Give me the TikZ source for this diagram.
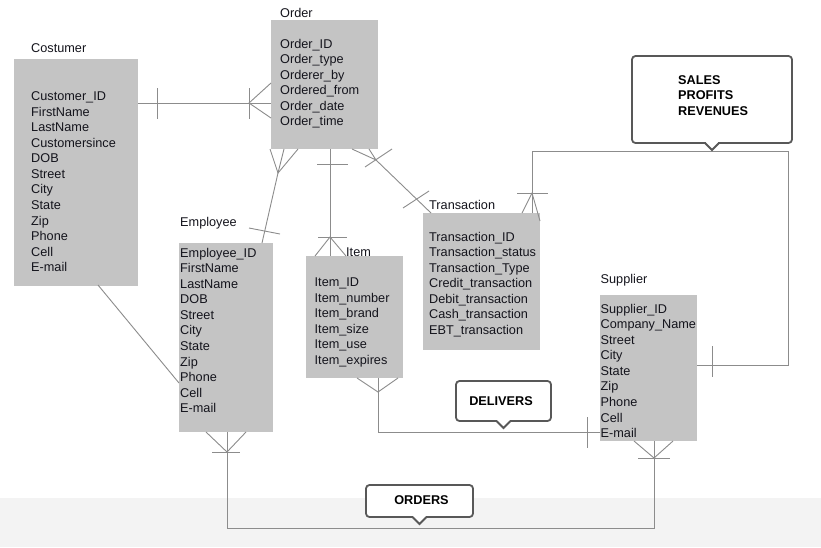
\documentclass[tikz,border=0pt]{standalone}
\usepackage{fontspec}
\setmainfont{Liberation Sans}
\usetikzlibrary{calc}

\definecolor{entityfill}{RGB}{196,196,196}
\definecolor{linkgray}{RGB}{140,140,140}
\definecolor{noteedge}{RGB}{88,88,88}
\definecolor{bandgray}{RGB}{243,243,243}
\definecolor{inktext}{RGB}{20,20,28}

\begin{document}
\begin{tikzpicture}[x=1pt,y=-1pt,
  entity/.style={fill=entityfill, draw=none, anchor=north west, inner sep=0, outer sep=0},
  title/.style={anchor=base west, inner sep=0, text=inktext, font=\fontsize{12.7}{15.55}\selectfont},
  attrs/.style={anchor=north west, inner sep=0, align=left, text=inktext, font=\fontsize{12.7}{15.55}\selectfont},
  link/.style={draw=linkgray, line width=0.9pt},
  notebox/.style={draw=noteedge, fill=white, line width=1.8pt, rounded corners=3.5pt, anchor=north west, inner sep=0, outer sep=0},
  notetext/.style={inner sep=0, text=black, font=\bfseries\fontsize{12.7}{15.5}\selectfont},
  notch/.style={draw=noteedge, fill=white, line width=1.8pt, line join=miter}
]
\useasboundingbox (0,0) rectangle (821,547);
\fill[white] (0,0) rectangle (821,547);
\fill[bandgray] (0,498) rectangle (821,547);

% ---- entity boxes ----
\node[entity, minimum width=124, minimum height=227] (cust)  at (14,59)  {};
\node[entity, minimum width=107, minimum height=129] (ord)   at (271,20) {};
\node[entity, minimum width=94,  minimum height=189] (emp)   at (179,243) {};
\node[entity, minimum width=97,  minimum height=122] (item)  at (306,256) {};
\node[entity, minimum width=117, minimum height=137] (trans) at (423,213) {};
\node[entity, minimum width=97,  minimum height=146] (supp)  at (600,295) {};

% ---- relationship notes ----
\node[notebox, minimum width=160, minimum height=87] (sales)    at (632,56)  {};
\node[notebox, minimum width=95,  minimum height=40] (delivers) at (456,381) {};
\node[notebox, minimum width=107, minimum height=32] (orders)   at (366,485) {};

% ---- Costumer -- Order ----
\coordinate (c1a) at (cust.east |- 0,103);
\coordinate (c1b) at (ord.west |- 0,103);
\draw[link] (c1a) -- (c1b);
\draw[link] ($(c1a)+(19,-15)$) -- ++(0,31);
\draw[link] ($(c1b)+(-22,-15)$) -- ++(0,31);
\draw[link] ($(c1b)+(0,-20)$) -- ($(c1b)+(-22,0)$) -- ($(c1b)+(0,15)$);

% ---- Order -- Employee ----
\coordinate (c2o) at ($(ord.south west)+(7,24)$);
\coordinate (c2e) at ($(emp.north west)+(83,0)$);
\draw[link] (c2o) -- (c2e);
\draw[link] ($(ord.south west)+(-1,0)$) -- (c2o) -- ($(ord.south west)+(27,0)$);
\draw[link] ($(ord.south west)+(13,0)$) -- (c2o);
\draw[link] ($(c2e)+(-13,-15)$) -- ($(c2e)+(18,-9)$);

% ---- Order -- Item ----
\coordinate (c3o) at ($(ord.south west)+(59,0)$);
\coordinate (c3i) at ($(item.north west)+(24,0)$);
\coordinate (c3k) at ($(c3i)+(0,-19)$);
\draw[link] (c3o) -- (c3i);
\draw[link] ($(c3o)+(-13,15)$) -- ++(31,0);
\draw[link] ($(c3k)+(-12,0)$) -- ++(29,0);
\draw[link] ($(c3i)+(-15,0)$) -- (c3k) -- ($(c3i)+(16,0)$);

% ---- Order -- Transaction ----
\coordinate (c4o) at ($(ord.south east)+(-2,11)$);
\coordinate (c4t) at ($(trans.north west)+(8,0)$);
\draw[link] (c4o) -- (c4t);
\draw[link] ($(ord.south east)+(-26,0)$) -- (c4o) -- ($(ord.south east)+(-9,0)$);
\draw[link] ($(c4o)+(-11,7)$) -- ($(c4o)+(16,-11)$);
\draw[link] ($(c4t)+(-28,-5)$) -- ($(c4t)+(-2,-22)$);

% ---- Transaction -- Supplier (sales / profits / revenues) ----
\coordinate (c5t) at ($(trans.north west)+(109,0)$);
\coordinate (c5a) at ($(c5t)+(0,-20)$);
\coordinate (c5k) at ($(sales.south east)+(-4,8)$);
\coordinate (c5s) at (supp.east |- 0,365);
\draw[link] (c5t) |- (c5k) |- (c5s);
\draw[link] ($(c5a)+(-15,0)$) -- ++(31,0);
\draw[link] ($(c5t)+(-10,0)$) -- (c5a) -- ($(c5t)+(8,8)$);
\draw[link] ($(c5s)+(15,-19)$) -- ++(0,31);

% ---- Costumer -- Employee ----
\draw[link] ($(cust.south west)+(84,-1)$) -- (emp.west |- 0,383);

% ---- Item -- Supplier (delivers) ----
\coordinate (c7a) at ($(item.south west)+(72,14)$);
\coordinate (c7m) at ($(delivers.south)+(0,11)$);
\coordinate (c7s) at (supp.west |- c7m);
\draw[link] (c7a) |- (c7m) -- (c7s);
\draw[link] ($(item.south west)+(51,0)$) -- (c7a) -- ($(item.south west)+(92,0)$);
\draw[link] ($(item.south west)+(72,0)$) -- (c7a);
\draw[link] ($(c7s)+(-13,-15)$) -- ++(0,31);

% ---- Employee -- Supplier (orders) ----
\coordinate (c8a) at ($(emp.south west)+(48,20)$);
\coordinate (c8m) at ($(orders.south)+(0,11)$);
\coordinate (c8b) at ($(supp.south west)+(54,17)$);
\draw[link] (c8a) |- (c8m) -| (c8b);
\draw[link] ($(emp.south west)+(27,0)$) -- (c8a) -- ($(emp.south west)+(67,0)$);
\draw[link] ($(emp.south west)+(48,0)$) -- (c8a);
\draw[link] ($(c8a)+(-15,0)$) -- ++(28,0);
\draw[link] ($(supp.south west)+(34,0)$) -- (c8b) -- ($(supp.south west)+(73,0)$);
\draw[link] ($(supp.south west)+(54,0)$) -- (c8b);
\draw[link] ($(c8b)+(-16,0)$) -- ++(32,0);

% ---- note pointers ----
\foreach \n in {sales,delivers,orders}{
  \fill[white] ($(\n.south)+(-6.4,-1.2)$) rectangle ($(\n.south)+(6.4,1.2)$);
  \draw[notch] ($(\n.south)+(-7,0)$) -- ($(\n.south)+(0,7)$) -- ($(\n.south)+(7,0)$);
}

% ---- entity titles ----
\node[title] (custname)  at (31,52.5)  {Costumer};
\node[title] (ordname)   at (280,17)   {Order};
\node[title] (empname)   at (180,226)  {Employee};
\node[title] (itemname)  at (346,256)  {Item};
\node[title] (transname) at (429,209)  {Transaction};
\node[title] (suppname)  at (600.5,283) {Supplier};

% ---- attributes ----
\node[attrs] (custattr) at (31,89.6) {\strut Customer\_ID\\FirstName\\LastName\\Customersince\\DOB\\Street\\City\\State\\Zip\\Phone\\Cell\\E-mail};
\node[attrs] (ordattr) at (280,37.1) {\strut Order\_ID\\Order\_type\\Orderer\_by\\Ordered\_from\\Order\_date\\Order\_time};
\node[attrs] (empattr) at (180,246.1) {\strut Employee\_ID\\FirstName\\LastName\\DOB\\Street\\City\\State\\Zip\\Phone\\Cell\\E-mail};
\node[attrs] (itemattr) at (314.5,275.6) {\strut Item\_ID\\Item\_number\\Item\_brand\\Item\_size\\Item\_use\\Item\_expires};
\node[attrs] (transattr) at (429,230.1) {\strut Transaction\_ID\\Transaction\_status\\Transaction\_Type\\Credit\_transaction\\Debit\_transaction\\Cash\_transaction\\EBT\_transaction};
\node[attrs] (suppattr) at (600.5,302.1) {\strut Supplier\_ID\\Company\_Name\\Street\\City\\State\\Zip\\Phone\\Cell\\E-mail};

% ---- note texts ----
\node[notetext, anchor=north west, align=left] (salestext) at (678,73.15) {\strut SALES\\PROFITS\\REVENUES};
\node[notetext, anchor=base] (deliverstext) at (501,405.5) {DELIVERS};
\node[notetext, anchor=base] (orderstext) at (421.5,504) {ORDERS};
\end{tikzpicture}
\end{document}
